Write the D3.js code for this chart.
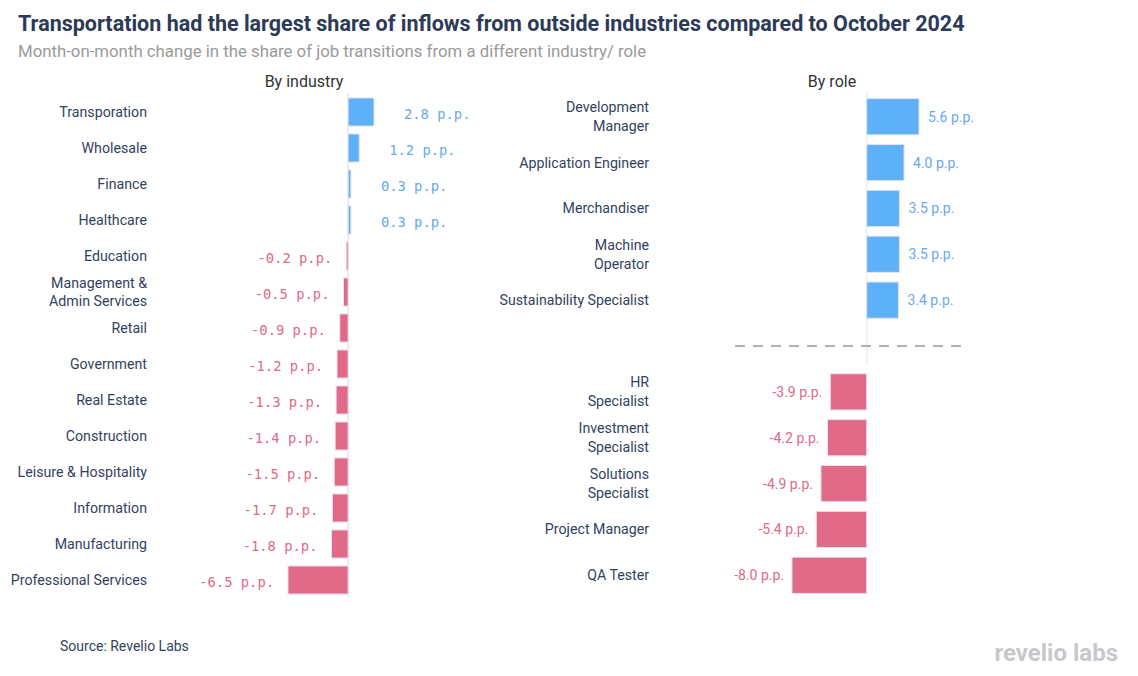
<!DOCTYPE html>
<html><head><meta charset="utf-8">
<script src="https://cdn.jsdelivr.net/npm/d3@7"></script>
<style>body{margin:0;background:#fff}svg{display:block}</style>
</head><body>
<svg id="c" width="1138" height="676"></svg>
<script>
const industries = ["Transporation","Wholesale","Finance","Healthcare","Education","Management &\nAdmin Services","Retail","Government","Real Estate","Construction","Leisure & Hospitality","Information","Manufacturing","Professional Services"];
const industryValues = [2.8,1.2,0.3,0.3,-0.2,-0.5,-0.9,-1.2,-1.3,-1.4,-1.5,-1.7,-1.8,-6.5];
const roles = ["Development\nManager","Application Engineer","Merchandiser","Machine\nOperator","Sustainability Specialist","__gap__","HR\nSpecialist","Investment\nSpecialist","Solutions\nSpecialist","Project Manager","QA Tester"];
const roleValues = [5.6,4.0,3.5,3.5,3.4,null,-3.9,-4.2,-4.9,-5.4,-8.0];

const svg = d3.select("#c");
const BLUE="#5eb0f7", PINK="#e06a88", BLUE_T="#6aa8ee", PINK_T="#e06a88", INK="#333f5e";
const fmt = v => d3.format(".1f")(v).replace("\u2212","-") + " p.p.";

svg.append("text").attr("x",18).attr("y",31).attr("font-family","Roboto").attr("font-weight",700).attr("font-size",21.5).attr("fill","#2c3a57")
  .text("Transportation had the largest share of inflows from outside industries compared to October 2024");
svg.append("text").attr("x",18).attr("y",57).attr("font-family","Roboto").attr("font-size",16.8).attr("fill","#9a9a9a")
  .text("Month-on-month change in the share of job transitions from a different industry/ role");
svg.append("text").attr("x",304).attr("y",87).attr("text-anchor","middle").attr("font-family","Roboto").attr("font-size",16).attr("fill","#333").text("By industry");
svg.append("text").attr("x",832).attr("y",87).attr("text-anchor","middle").attr("font-family","Roboto").attr("font-size",16).attr("fill","#333").text("By role");
svg.append("text").attr("x",60).attr("y",651).attr("font-family","Roboto").attr("font-size",14).attr("fill",INK).text("Source: Revelio Labs");
svg.append("text").attr("x",1118).attr("y",661).attr("text-anchor","end").attr("font-family","Roboto").attr("font-weight",700).attr("font-size",24).attr("fill","#c8c8cc").text("revelio labs");

function multiline(sel, txt, x, lh){
  const lines = txt.split("\n");
  lines.forEach((l,i)=>{
    sel.append("tspan").attr("x",x).attr("dy", i===0 ? (-(lines.length-1)*lh/2)+"px" : lh+"px").text(l);
  });
}

// Left panel
const yL = d3.scaleBand().domain(industries).range([94,598]).paddingInner(0.22).paddingOuter(0.11);
const xL = d3.scaleLinear().domain([-6.5,2.8]).range([288,374]);
const gL = svg.append("g");
gL.append("line").attr("x1",xL(0)).attr("x2",xL(0)).attr("y1",93).attr("y2",597).attr("stroke","#e4e4ea").attr("stroke-width",1.5);
industries.forEach((c,i)=>{
  const v = industryValues[i];
  const y = yL(c), h = yL.bandwidth(), cy = y+h/2;
  gL.append("rect").attr("x",Math.min(xL(0),xL(v))).attr("y",y).attr("width",Math.abs(xL(v)-xL(0))).attr("height",h)
    .attr("fill", v>=0?BLUE:PINK).attr("stroke","#e8e2ee").attr("stroke-width",1);
  const t = gL.append("text").attr("y",cy).attr("dominant-baseline","central").attr("text-anchor","end")
    .attr("font-family","Roboto").attr("font-size",14.2).attr("fill",INK);
  multiline(t,c,147,18);
  gL.append("text").attr("x", v>=0 ? xL(v)+30 : xL(v)-14).attr("y",cy+2).attr("dominant-baseline","central")
    .attr("text-anchor", v>=0?"start":"end").attr("font-family","DejaVu Sans Mono").attr("font-size",13.8)
    .attr("fill", v>=0?BLUE_T:PINK_T).text(fmt(v));
});

// Right panel
const yR = d3.scaleBand().domain(roles).range([94,598]).paddingInner(0.21).paddingOuter(0.1);
const xR = d3.scaleLinear().domain([-8,5.6]).range([792,919]);
const gR = svg.append("g");
gR.append("line").attr("x1",xR(0)).attr("x2",xR(0)).attr("y1",93).attr("y2",364).attr("stroke","#eceef4").attr("stroke-width",1.5);
const gapY = yR("__gap__")+yR.bandwidth()/2;
gR.append("line").attr("x1",735).attr("x2",962).attr("y1",gapY).attr("y2",gapY).attr("stroke","#b0b0b0").attr("stroke-width",2).attr("stroke-dasharray","10,8");
roles.forEach((c,i)=>{
  const v = roleValues[i];
  if(v===null) return;
  const y = yR(c), h = yR.bandwidth(), cy = y+h/2;
  gR.append("rect").attr("x",Math.min(xR(0),xR(v))).attr("y",y).attr("width",Math.abs(xR(v)-xR(0))).attr("height",h)
    .attr("fill", v>=0?BLUE:PINK).attr("stroke","#e8e2ee").attr("stroke-width",1);
  const t = gR.append("text").attr("y",cy).attr("dominant-baseline","central").attr("text-anchor","end")
    .attr("font-family","Roboto").attr("font-size",14.2).attr("fill",INK);
  multiline(t,c,649,19);
  gR.append("text").attr("x", v>=0 ? xR(v)+9 : xR(v)-8).attr("y",cy).attr("dominant-baseline","central")
    .attr("text-anchor", v>=0?"start":"end").attr("font-family","Roboto").attr("font-size",14)
    .attr("fill", v>=0?BLUE_T:PINK_T).text(fmt(v));
});
</script>
</body></html>
